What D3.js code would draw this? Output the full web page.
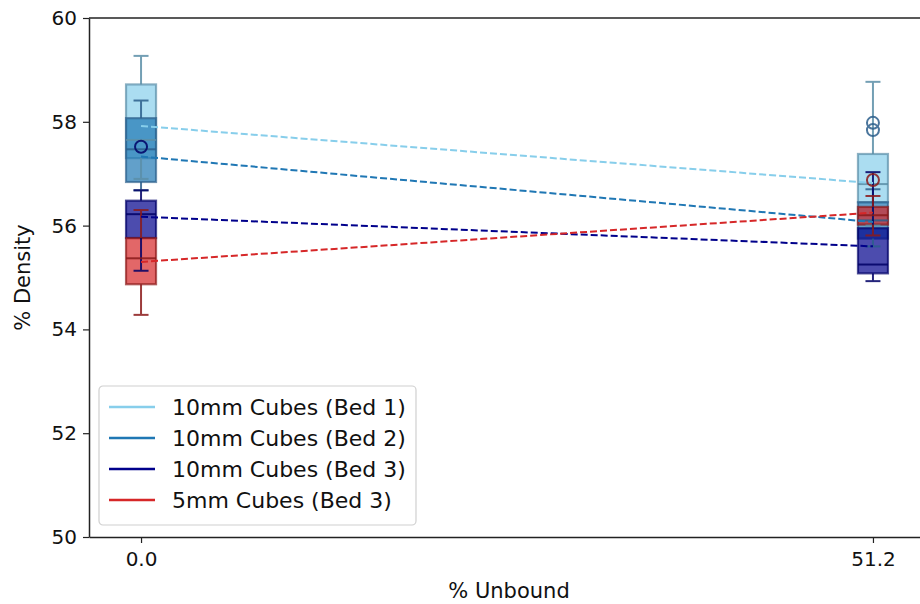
<!DOCTYPE html>
<html>
<head>
<meta charset="utf-8">
<script src="https://cdn.jsdelivr.net/npm/d3@7"></script>
<style>
  body { margin: 0; background: #fff; }
  text { font-family: "DejaVu Sans", sans-serif; }
</style>
</head>
<body>
<div id="chart-area"></div>
<script>

// x positions (% unbound) and tick labels
let unbound = [0, 51.2];
let yTicks = [50, 52, 54, 56, 58, 60];

// series
let seriesNames = ["10mm Cubes (Bed 1)", "10mm Cubes (Bed 2)", "10mm Cubes (Bed 3)", "5mm Cubes (Bed 3)"];
let lineColors = ["#87ceeb", "#1f77b4", "#00008b", "#d62728"];
let edgeColors = ["#5b8fa8", "#2c5f8c", "#000066", "#8b1a1a"];

// box stats per series, one entry per x position: [lo, q1, median, q3, hi]
let bed1Stats = [[56.90, 57.30, 57.65, 58.72, 59.27], [56.00, 56.45, 56.80, 57.38, 58.77]];
let bed2Stats = [[56.68, 56.84, 57.47, 58.07, 58.41], [55.60, 55.75, 56.10, 56.45, 56.70]];
let bed3Stats = [[55.13, 55.76, 56.22, 56.48, 56.68], [54.93, 55.08, 55.25, 55.95, 57.03]];
let mm5Stats  = [[54.28, 54.87, 55.37, 55.76, 56.30], [55.81, 56.02, 56.20, 56.36, 56.57]];

let bed1Fliers = [[], []];
let bed2Fliers = [[], [57.98, 57.84]];
let bed3Fliers = [[57.52], []];
let mm5Fliers  = [[], [56.88]];

// values joined by dashed lines
let bed1Means = [57.92, 56.82];
let bed2Means = [57.33, 56.07];
let bed3Means = [56.17, 55.60];
let mm5Means  = [55.30, 56.25];

let allStats = [bed1Stats, bed2Stats, bed3Stats, mm5Stats];
let allFliers = [bed1Fliers, bed2Fliers, bed3Fliers, mm5Fliers];
let allMeans = [bed1Means, bed2Means, bed3Means, mm5Means];

/////////////////////////
// SVG drawing area
/////////////////////////

let W = 920, H = 604;
let plot = {left: 89, top: 18, right: 925, bottom: 537};

let svg = d3.select("#chart-area").append("svg")
	.attr("width", W)
	.attr("height", H);

let x = d3.scaleLinear()
	.domain([-3.64, 54.84])
	.range([plot.left, plot.right]);

let y = d3.scaleLinear()
	.domain([50, 60])
	.range([plot.bottom, plot.top]);

let boxW = 30;

// boxes first (patches sit under the lines)
allStats.forEach(function(stats, s) {
	stats.forEach(function(d, i) {
		svg.append("rect")
			.attr("x", x(unbound[i]) - boxW / 2)
			.attr("y", y(d[3]))
			.attr("width", boxW)
			.attr("height", y(d[1]) - y(d[3]))
			.attr("fill", lineColors[s])
			.attr("fill-opacity", 0.7)
			.attr("stroke", edgeColors[s])
			.attr("stroke-opacity", 0.7)
			.attr("stroke-width", 2.2);
	});
});

// whiskers, caps, medians, fliers
allStats.forEach(function(stats, s) {
	let g = svg.append("g")
		.attr("stroke", edgeColors[s])
		.attr("stroke-width", 2)
		.attr("fill", "none")
		.attr("opacity", 0.85);
	stats.forEach(function(d, i) {
		let cx = x(unbound[i]);
		g.append("line").attr("x1", cx).attr("x2", cx).attr("y1", y(d[3])).attr("y2", y(d[4]));
		g.append("line").attr("x1", cx).attr("x2", cx).attr("y1", y(d[1])).attr("y2", y(d[0]));
		g.append("line").attr("x1", cx - boxW / 4).attr("x2", cx + boxW / 4).attr("y1", y(d[4])).attr("y2", y(d[4]));
		g.append("line").attr("x1", cx - boxW / 4).attr("x2", cx + boxW / 4).attr("y1", y(d[0])).attr("y2", y(d[0]));
		g.append("line").attr("x1", cx - boxW / 2).attr("x2", cx + boxW / 2).attr("y1", y(d[2])).attr("y2", y(d[2]));
		allFliers[s][i].forEach(function(f) {
			g.append("circle").attr("cx", cx).attr("cy", y(f)).attr("r", 6);
		});
	});
});

// dashed lines
let line = d3.line()
	.x(function(d, i) { return x(unbound[i]); })
	.y(function(d) { return y(d); });

allMeans.forEach(function(m, s) {
	svg.append("path")
		.datum(m)
		.attr("d", line)
		.attr("fill", "none")
		.attr("stroke", lineColors[s])
		.attr("stroke-width", 2)
		.attr("stroke-dasharray", "7,3");
});

// axes
let yAxis = d3.axisLeft(y)
	.tickValues(yTicks)
	.tickSize(6)
	.tickSizeOuter(0)
	.tickPadding(6)
	.tickFormat(d3.format("d"));

let xAxis = d3.axisBottom(x)
	.tickValues(unbound)
	.tickSize(6)
	.tickSizeOuter(0)
	.tickPadding(9)
	.tickFormat(d3.format(".1f"));

let yAxisGroup = svg.append("g")
	.attr("transform", "translate(" + plot.left + ",0)")
	.call(yAxis);

let xAxisGroup = svg.append("g")
	.attr("transform", "translate(0," + plot.bottom + ")")
	.call(xAxis);

svg.selectAll(".tick text")
	.attr("font-size", 20)
	.attr("fill", "#111")
	.style("font-family", "DejaVu Sans");
svg.selectAll(".tick line").attr("stroke", "#222").attr("stroke-width", 1.2);
svg.selectAll(".domain").attr("stroke", "#222").attr("stroke-width", 1.5);

// top spine
svg.append("line")
	.attr("x1", plot.left).attr("x2", W)
	.attr("y1", plot.top).attr("y2", plot.top)
	.attr("stroke", "#222")
	.attr("stroke-width", 1.5);

// axis labels
svg.append("text")
	.attr("x", 509)
	.attr("y", 598)
	.attr("text-anchor", "middle")
	.attr("font-size", 21)
	.attr("fill", "#111")
	.text("% Unbound");

svg.append("text")
	.attr("transform", "translate(30," + (plot.top + plot.bottom) / 2 + ") rotate(-90)")
	.attr("text-anchor", "middle")
	.attr("font-size", 21)
	.attr("fill", "#111")
	.text("% Density");

// legend
let legend = svg.append("g").attr("transform", "translate(99,386)");
legend.append("rect")
	.attr("width", 317)
	.attr("height", 139)
	.attr("rx", 4)
	.attr("fill", "#fff")
	.attr("fill-opacity", 0.85)
	.attr("stroke", "#d0d0d0")
	.attr("stroke-width", 1.2);

seriesNames.forEach(function(name, s) {
	let ry = 21 + s * 31;
	legend.append("line")
		.attr("x1", 10).attr("x2", 56)
		.attr("y1", ry).attr("y2", ry)
		.attr("stroke", lineColors[s])
		.attr("stroke-width", 2.5);
	legend.append("text")
		.attr("x", 73)
		.attr("y", ry + 8)
		.attr("font-size", 22)
		.attr("fill", "#111")
		.text(name);
});

</script>
</body>
</html>
